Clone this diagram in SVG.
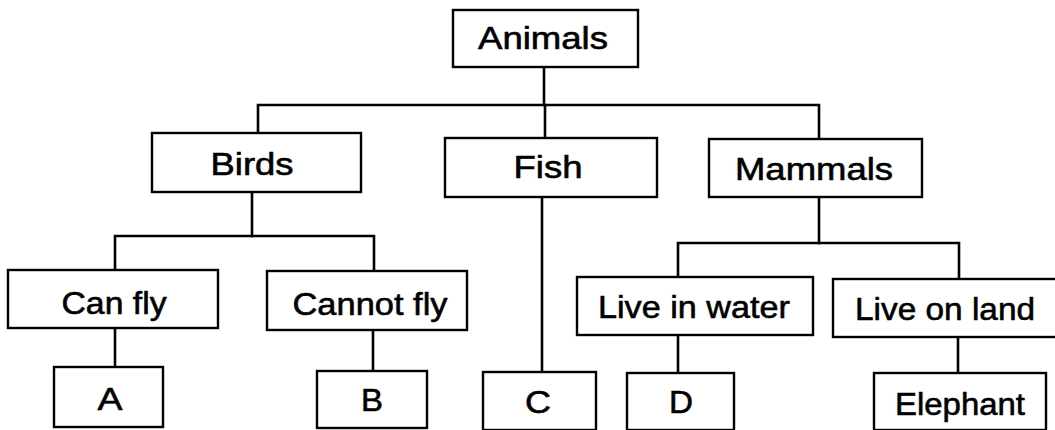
<svg xmlns="http://www.w3.org/2000/svg" width="1055" height="430" viewBox="0 0 1055 430">
  <style>
    .box { fill: #ffffff; stroke: #000000; stroke-width: 2.4; }
    .lbl { font-family: "Liberation Sans", Arial, sans-serif; font-size: 32px; fill: #000000; stroke: #000000; stroke-width: 0.6; text-anchor: middle; }
    .conn { fill: none; stroke: #000000; stroke-width: 2.6; stroke-linecap: square; }
  </style>
  <rect x="0" y="0" width="1055" height="430" fill="#ffffff"/>
  <g id="connectors">
    <path class="conn" d="M544,67 V105"/>
    <path class="conn" d="M258,133 V105 H819 V139"/>
    <path class="conn" d="M545,105 V138"/>
    <path class="conn" d="M252,192 V236"/>
    <path class="conn" d="M115,270 V236 H374 V271"/>
    <path class="conn" d="M115,328 V367"/>
    <path class="conn" d="M373,330 V371"/>
    <path class="conn" d="M542,197 V372"/>
    <path class="conn" d="M819,197 V243"/>
    <path class="conn" d="M678,277 V243 H959 V279"/>
    <path class="conn" d="M678,335 V373"/>
    <path class="conn" d="M958,337 V373"/>
  </g>
  <g id="animals">
    <rect class="box" x="453" y="10" width="185" height="57"/>
    <text class="lbl" x="543" y="49" textLength="130" lengthAdjust="spacingAndGlyphs">Animals</text>
  </g>
  <g id="birds">
    <rect class="box" x="152" y="133" width="209" height="59"/>
    <text class="lbl" x="252" y="175" textLength="83" lengthAdjust="spacingAndGlyphs">Birds</text>
  </g>
  <g id="fish">
    <rect class="box" x="445" y="138" width="212" height="59"/>
    <text class="lbl" x="548" y="178" textLength="69" lengthAdjust="spacingAndGlyphs">Fish</text>
  </g>
  <g id="mammals">
    <rect class="box" x="709" y="139" width="213" height="58"/>
    <text class="lbl" x="814" y="180" textLength="158" lengthAdjust="spacingAndGlyphs">Mammals</text>
  </g>
  <g id="can-fly">
    <rect class="box" x="8" y="270" width="210" height="58"/>
    <text class="lbl" x="114" y="314" textLength="105" lengthAdjust="spacingAndGlyphs">Can fly</text>
  </g>
  <g id="cannot-fly">
    <rect class="box" x="267" y="271" width="200" height="59"/>
    <text class="lbl" x="370" y="315" textLength="155" lengthAdjust="spacingAndGlyphs">Cannot fly</text>
  </g>
  <g id="live-in-water">
    <rect class="box" x="577" y="277" width="236" height="58"/>
    <text class="lbl" x="694" y="318" textLength="192" lengthAdjust="spacingAndGlyphs">Live in water</text>
  </g>
  <g id="live-on-land">
    <rect class="box" x="833" y="279" width="230" height="58"/>
    <text class="lbl" x="945" y="320" textLength="180" lengthAdjust="spacingAndGlyphs">Live on land</text>
  </g>
  <g id="a">
    <rect class="box" x="54" y="367" width="109" height="60"/>
    <text class="lbl" x="110" y="410" textLength="25" lengthAdjust="spacingAndGlyphs">A</text>
  </g>
  <g id="b">
    <rect class="box" x="317" y="371" width="110" height="57"/>
    <text class="lbl" x="372" y="411" textLength="22" lengthAdjust="spacingAndGlyphs">B</text>
  </g>
  <g id="c">
    <rect class="box" x="483" y="372" width="113" height="58"/>
    <text class="lbl" x="538" y="413" textLength="26" lengthAdjust="spacingAndGlyphs">C</text>
  </g>
  <g id="d">
    <rect class="box" x="627" y="373" width="107" height="57"/>
    <text class="lbl" x="681" y="413" textLength="24" lengthAdjust="spacingAndGlyphs">D</text>
  </g>
  <g id="elephant">
    <rect class="box" x="874" y="373" width="172" height="57"/>
    <text class="lbl" x="960" y="415" textLength="130" lengthAdjust="spacingAndGlyphs">Elephant</text>
  </g>
</svg>
